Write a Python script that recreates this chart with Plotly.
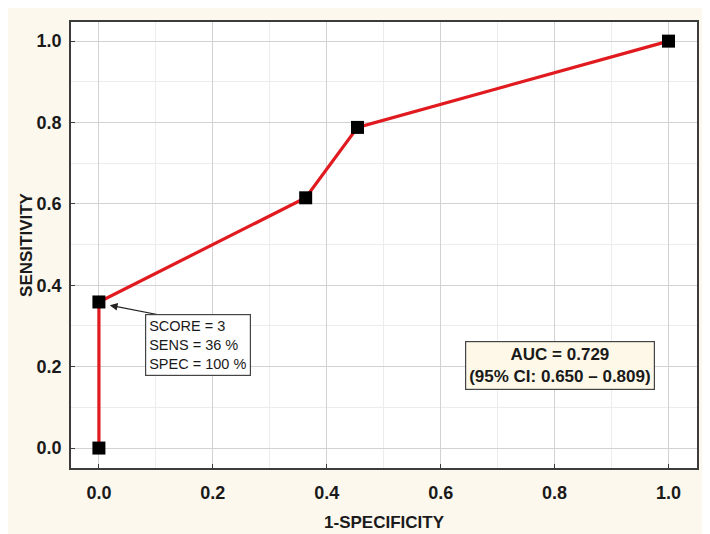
import plotly.graph_objects as go

# ROC points (1-specificity, sensitivity)
fpr = [0.0, 0.0, 0.363, 0.454, 1.0]
sens = [0.0, 0.359, 0.615, 0.788, 1.0]

tick_vals = [0.0, 0.2, 0.4, 0.6, 0.8, 1.0]
tick_text = ["0.0", "0.2", "0.4", "0.6", "0.8", "1.0"]

cut_label = "SCORE = 3<br>SENS = 36 %<br>SPEC = 100 %"
auc_label = "<b>AUC = 0.729</b><br><b>(95% CI: 0.650 \u2013 0.809)</b>"

font_family = "Liberation Sans, Arial, sans-serif"
frame_color = "#3c3c3c"

fig = go.Figure()
fig.add_trace(go.Scatter(
    x=fpr, y=sens,
    mode="lines+markers",
    line=dict(color="#e01a1f", width=3.2),
    marker=dict(symbol="square", size=13, color="black"),
    showlegend=False,
))

axis_common = dict(
    tickvals=tick_vals,
    ticktext=tick_text,
    tickfont=dict(family=font_family, size=18, color="#1a1a1a", weight="bold"),
    showgrid=True,
    gridcolor="#d2d2d2",
    gridwidth=1,
    minor=dict(dtick=0.1, showgrid=True, gridcolor="#ececec", gridwidth=1,
               ticks=""),
    showline=True,
    linecolor=frame_color,
    linewidth=1.5,
    mirror=True,
    ticks="inside",
    ticklen=4,
    tickcolor=frame_color,
    zeroline=False,
)

fig.update_xaxes(
    range=[-0.049, 1.05],
    title=dict(text="<b>1-SPECIFICITY</b>", standoff=14,
               font=dict(family=font_family, size=17, color="#1a1a1a")),
    ticklabelstandoff=8,
    **axis_common,
)
fig.update_yaxes(
    range=[-0.049, 1.047],
    title=dict(text="<b>SENSITIVITY</b>", standoff=0,
               font=dict(family=font_family, size=17, color="#1a1a1a")),
    ticklabelstandoff=4,
    **axis_common,
)

# arrow pointing to the cut-off point
fig.add_annotation(
    x=0.019, y=0.351, ax=0.125, ay=0.322,
    xref="x", yref="y", axref="x", ayref="y",
    text="", showarrow=True,
    arrowhead=2, arrowsize=1.3, arrowwidth=1.2, arrowcolor="#222222",
)
fig.add_annotation(
    x=0.081, y=0.253, xref="x", yref="y",
    xanchor="left", yanchor="middle",
    text=cut_label, showarrow=False, align="left",
    font=dict(family=font_family, size=14.5, color="#1a1a1a"),
    bgcolor="white", bordercolor="#444444", borderwidth=1.2, borderpad=3,
)
fig.add_annotation(
    x=0.809, y=0.204, xref="x", yref="y",
    text=auc_label, showarrow=False, align="center",
    font=dict(family=font_family, size=17, color="#1a1a1a"),
    bgcolor="#fdf8e8", bordercolor="#444444", borderwidth=1.2, borderpad=3,
)

fig.update_layout(
    width=710, height=534,
    margin=dict(l=63, r=21, t=14, b=74),
    paper_bgcolor="#fcf8ee",
    plot_bgcolor="white",
    font=dict(family=font_family),
)

fig.write_html("out.html")
